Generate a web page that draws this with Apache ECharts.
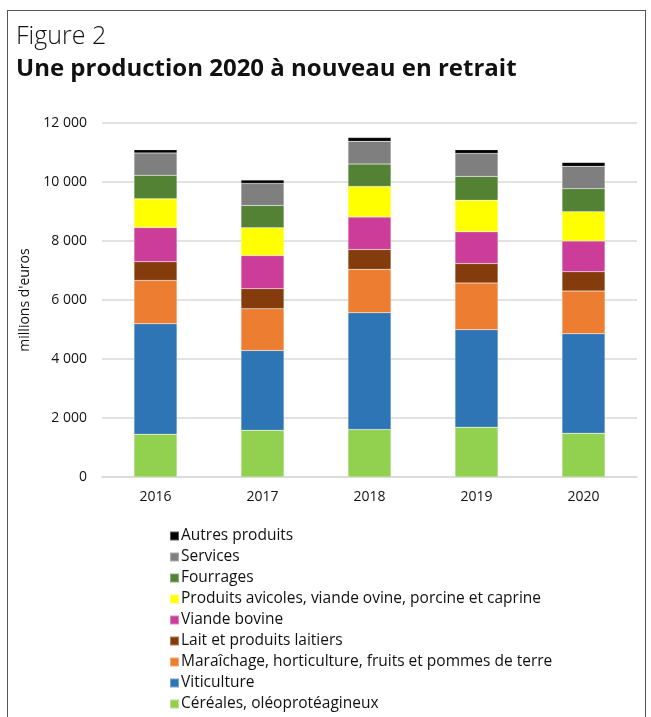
<!DOCTYPE html>
<html>
<head>
<meta charset="utf-8">
<script src="https://cdn.jsdelivr.net/npm/echarts@6/dist/echarts.min.js"></script>
<style>
  html, body { margin: 0; padding: 0; background: #fff; }
  #frame {
    position: absolute; left: 7px; top: 10px; width: 639px; height: 720px;
    border: 1.5px solid #555; box-sizing: border-box;
  }
  #t1, #t2 { position: absolute; left: 16px; font-family: "Open Sans", "Noto Sans", sans-serif; color: #111; }
  #t1 { top: 17px; font-size: 25px; font-weight: 300; }
  #t2 { top: 50px; font-size: 24px; font-weight: 700; }
  #chart { position: absolute; left: 0; top: 0; width: 651px; height: 717px; }
</style>
</head>
<body>
<div id="frame"></div>
<div id="chart"></div>
<div id="t1">Figure 2</div>
<div id="t2">Une production 2020 à nouveau en retrait</div>
<script>
var years = ['2016', '2017', '2018', '2019', '2020'];

// valeurs en millions d'euros, du bas vers le haut de chaque barre
var cereales   = [1450, 1585, 1610, 1690, 1485];
var viticulture = [3745, 2705, 3960, 3305, 3370];
var maraichage = [1470, 1415, 1470, 1585, 1450];
var lait       = [635, 680, 670, 655, 655];
var bovine     = [1155, 1120, 1100, 1075, 1040];
var avicoles   = [975, 940, 1040, 1075, 995];
var fourrages  = [795, 760, 760, 805, 780];
var services   = [760, 745, 770, 780, 760];
var autres     = [110, 115, 125, 125, 125];

var names = [
	'Céréales, oléoprotéagineux',
	'Viticulture',
	'Maraîchage, horticulture, fruits et pommes de terre',
	'Lait et produits laitiers',
	'Viande bovine',
	'Produits avicoles, viande ovine, porcine et caprine',
	'Fourrages',
	'Services',
	'Autres produits'
];
var values = [cereales, viticulture, maraichage, lait, bovine, avicoles, fourrages, services, autres];
var colors = ['#92d050', '#2e75b6', '#ed7d31', '#843c0c', '#cc3d9a', '#ffff00', '#548235', '#7f7f7f', '#000000'];

var font = '"Open Sans", "Noto Sans", sans-serif';

var series = names.map(function (n, i) {
	return {
		name: n,
		type: 'bar',
		stack: 'total',
		barWidth: 43,
		data: values[i],
		itemStyle: { color: colors[i], borderColor: 'rgba(255,255,255,0.35)', borderWidth: 0.5 }
	};
});

var chart = echarts.init(document.getElementById('chart'));

chart.setOption({
	animation: false,
	textStyle: { fontFamily: font },
	grid: { left: 102, right: 14, top: 123, height: 354 },
	legend: {
		orient: 'vertical',
		left: 164,
		top: 522,
		height: 195,
		itemWidth: 9,
		itemHeight: 9,
		itemGap: 3,
		icon: 'rect',
		data: names.slice().reverse(),
		textStyle: { fontFamily: font, fontSize: 15.5, color: '#111', lineHeight: 18, padding: [0, 0, 0, -3] }
	},
	xAxis: {
		type: 'category',
		data: years,
		axisTick: { show: false },
		axisLine: { lineStyle: { color: '#d9d9d9', width: 1.5 } },
		axisLabel: { color: '#111', fontSize: 14, margin: 13, fontFamily: font }
	},
	yAxis: {
		type: 'value',
		min: 0,
		max: 12000,
		interval: 2000,
		name: "millions d'euros",
		nameLocation: 'middle',
		nameGap: 60,
		nameRotate: 90,
		nameTextStyle: { color: '#111', fontSize: 14, fontFamily: font },
		axisLabel: {
			color: '#111', fontSize: 14, margin: 15, fontFamily: font,
			formatter: function (v) {
				return v >= 1000 ? Math.floor(v / 1000) + ' ' + String(v % 1000).padStart(3, '0') : String(v);
			}
		},
		splitLine: { lineStyle: { color: '#d9d9d9', width: 1.5 } }
	},
	series: series
});
</script>
</body>
</html>
